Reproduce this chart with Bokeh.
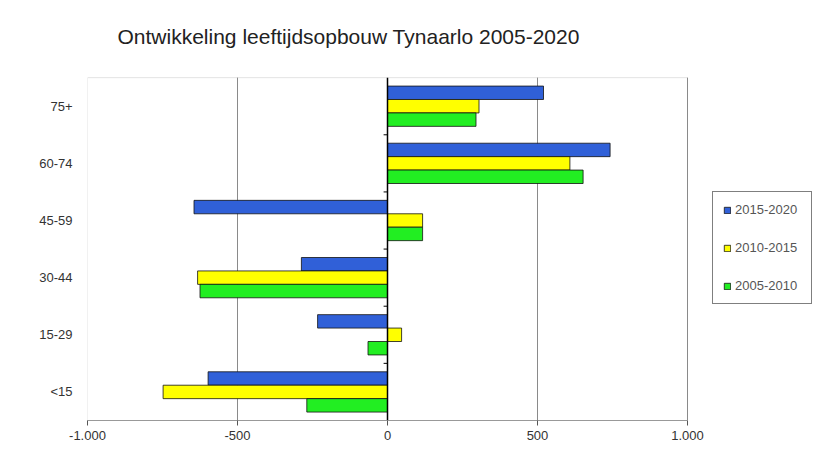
from bokeh.plotting import figure
from bokeh.models import (FactorRange, Range1d, FixedTicker, Legend, LegendItem,
                          Label, ColumnDataSource)
from bokeh.transform import dodge
from bokeh.embed import file_html
from bokeh.resources import INLINE

# ---- data ----
categories = ["<15", "15-29", "30-44", "45-59", "60-74", "75+"]
series_names = ["2015-2020", "2010-2015", "2005-2010"]
v_2015_2020 = [-598, -233, -287, -645, 742, 520]
v_2010_2015 = [-748, 47, -633, 117, 608, 305]
v_2005_2010 = [-269, -65, -625, 117, 652, 295]
x_ticks = [-1000, -500, 0, 500, 1000]
x_tick_labels = ["-1.000", "-500", "0", "500", "1.000"]
title_text = "Ontwikkeling leeftijdsopbouw Tynaarlo 2005-2020"

colors = ["#3060D8", "#FFFF00", "#22EE22"]
FONT = "Liberation Sans"

src = ColumnDataSource(dict(cat=categories, a=v_2015_2020, b=v_2010_2015, c=v_2005_2010))

# The frame is extended to the right (legend) and upward (title, via a blank band);
# the data area itself is -1000..1000 over the six categories.
xmin, xmax = x_ticks[0], x_ticks[-1]
extra = (xmax - xmin) * 130 / 600
blank = " "
p = figure(frame_width=730, frame_height=400, output_backend="svg", toolbar_location=None,
           title=None,
           y_range=FactorRange(factors=categories + [blank]), x_range=Range1d(xmin, xmax + extra),
           min_border_left=87, min_border_right=0, min_border_top=20, min_border_bottom=39)
p.background_fill_color = "white"
p.border_fill_color = "white"
p.outline_line_color = None

y_bottom = (categories[0], -0.5)
y_top = (categories[-1], 0.5)

# faint plot-area border (left, top)
p.segment(x0=[xmin, xmin], x1=[xmin, xmax], y0=[y_bottom, y_top], y1=[y_top, y_top],
          line_color="#e4e4e4", line_width=1)

# vertical grid lines (at -500, 500, 1000)
grid_x = [x_ticks[1], x_ticks[3], x_ticks[4]]
p.segment(x0=grid_x, x1=grid_x, y0=[y_bottom] * 3, y1=[y_top] * 3,
          line_color="#8a8a8a", line_width=1)

bw = 0.235
renderers = []
for col, off, color in zip(["a", "b", "c"], [bw, 0, -bw], colors):
    r = p.hbar(y=dodge("cat", off, range=p.y_range), right=col, left=0, height=bw,
               source=src, fill_color=color, line_color="#111111", line_width=0.8)
    renderers.append(r)

# zero axis line
p.segment(x0=[0], x1=[0], y0=[y_bottom], y1=[y_top], line_color="black", line_width=1.5)
# small ticks at category boundaries on zero axis
ys = [(c, -0.5) for c in categories[1:]]
p.segment(x0=[-13] * len(ys), x1=[0] * len(ys), y0=ys, y1=ys, line_color="black", line_width=1)

# x axis
p.xaxis.ticker = FixedTicker(ticks=x_ticks)
p.xaxis.bounds = (xmin, xmax)
p.xaxis.major_label_overrides = {t: l for t, l in zip(x_ticks, x_tick_labels)}
p.xaxis.axis_line_color = "#999999"
p.xaxis.major_tick_line_color = "#555555"
p.xaxis.major_tick_out = 5
p.xaxis.major_tick_in = 0
p.xaxis.minor_tick_line_color = None
p.xaxis.major_label_text_font = FONT
p.xaxis.major_label_text_font_size = "13px"
p.xaxis.major_label_text_color = "#333333"
p.xaxis.major_label_standoff = 5

# y axis
p.yaxis.axis_line_color = None
p.yaxis.major_tick_line_color = None
p.yaxis.major_tick_out = 0
p.yaxis.major_tick_in = 0
p.yaxis.minor_tick_line_color = None
p.yaxis.major_label_text_font = FONT
p.yaxis.major_label_text_font_size = "13px"
p.yaxis.major_label_text_color = "#333333"
p.yaxis.major_label_standoff = 15

p.xgrid.grid_line_color = None
p.ygrid.grid_line_color = None

# title (screen units relative to the frame's bottom-left)
p.add_layout(Label(x=30, y=400 - 16, x_units="screen", y_units="screen", text=title_text,
                   text_font=FONT, text_font_size="21px", text_color="#222222",
                   text_baseline="middle", text_align="left"))

# legend
legend = Legend(items=[LegendItem(label=n, renderers=[r]) for n, r in zip(series_names, renderers)],
                location=(625, 116))
legend.border_line_color = "black"
legend.border_line_width = 1
legend.background_fill_color = "white"
legend.label_text_font = FONT
legend.label_text_font_size = "13px"
legend.label_text_color = "#555555"
legend.glyph_width = 8
legend.glyph_height = 8
legend.label_height = 8
legend.label_width = 66
legend.label_standoff = 4
legend.spacing = 23
legend.padding = 10
legend.margin = 0
p.add_layout(legend, "center")

open("out.html", "w").write(file_html(p, INLINE))
